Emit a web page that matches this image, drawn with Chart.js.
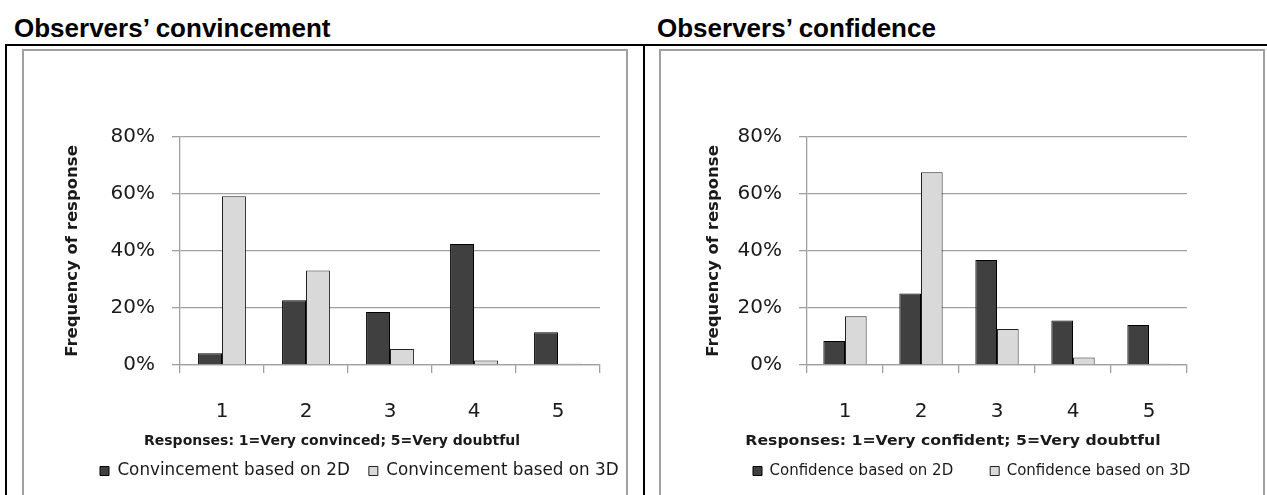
<!DOCTYPE html>
<html>
<head>
<meta charset="utf-8">
<script src="https://cdn.jsdelivr.net/npm/chart.js@4.4.1/dist/chart.umd.min.js"></script>
<style>
  html, body { margin: 0; padding: 0; background: #fff; width: 1267px; height: 495px; overflow: hidden; }
  body { position: relative; }
  .heading { position: absolute; top: 15px; font: bold 26px "Liberation Sans", Arial, sans-serif; line-height: 26px; color: #000; white-space: nowrap; }
  .rule { position: absolute; background: #000; }
  .frame { position: absolute; top: 49px; width: 602px; height: 470px; border: 2px solid #a0a0a0; border-bottom: none; }
  .box { position: absolute; left: 0; top: 0; width: 602px; height: 444px; }
</style>
</head>
<body>
<div class="heading" style="left:14px">Observers’ convincement</div>
<div class="heading" style="left:657px">Observers’ confidence</div>
<div class="rule" style="left:5px;top:44px;width:1262px;height:2px"></div>
<div class="rule" style="left:5px;top:44px;width:2px;height:451px"></div>
<div class="rule" style="left:643px;top:44px;width:2px;height:451px"></div>
<div class="frame" style="left:22px"><div class="box"><canvas id="convChart"></canvas></div></div>
<div class="frame" style="left:659px"><div class="box"><canvas id="confChart"></canvas></div></div>

<script>
// Response scale (1 = most certain, 5 = most doubtful)
const categories = ['1', '2', '3', '4', '5'];

// Share of responses, in percent
const convincement2D = [4.1, 22.7, 18.6, 42.5, 11.5];
const convincement3D = [59.2, 33.2, 5.6, 1.6, 0.4];
const confidence2D = [8.4, 25.1, 36.8, 15.6, 14.0];
const confidence3D = [17.1, 67.6, 12.6, 2.6, 0.4];

// Value axis ticks, in percent
const yTicks = [0, 20, 40, 60, 80];

const FONT = '"DejaVu Sans", sans-serif';
const TEXT = '#1a1a1a';
const GRID = '#a0a0a0';
const PLOT_TOP = 86;      // canvas px
const PLOT_BOTTOM = 314;  // canvas px

// Moves the legend row to a fixed start point and baseline under the axis note.
const legendPlacement = {
  id: 'legendPlacement',
  afterLayout(chart, args, opts) {
    const lg = chart.legend;
    if (!lg) return;
    const dx = (opts.startX - opts.padding) - lg.left;
    lg.left += dx; lg.right += dx;
    const dy = (opts.centerY - opts.padding - opts.fontSize / 2) - lg.top;
    lg.top += dy; lg.bottom += dy;
  }
};

// Category-axis caption drawn between the tick labels and the legend.
const axisNote = {
  id: 'axisNote',
  afterDraw(chart, args, opts) {
    const { ctx } = chart;
    ctx.save();
    ctx.font = `bold ${opts.size}px ${FONT}`;
    ctx.fillStyle = TEXT;
    ctx.textAlign = 'center';
    ctx.textBaseline = 'middle';
    ctx.translate(opts.centerX, opts.centerY);
    ctx.scale(opts.stretch, 1);
    ctx.fillText(opts.text, 0, 0);
    ctx.restore();
  }
};

function buildChart(id, series2D, series3D, label2D, label3D, note, frame) {
  return new Chart(document.getElementById(id), {
    type: 'bar',
    data: {
      labels: categories,
      datasets: [
        { label: label2D, data: series2D, backgroundColor: '#404040', borderColor: '#000', borderWidth: 1 },
        { label: label3D, data: series3D, backgroundColor: '#d9d9d9', borderColor: '#222', borderWidth: 1 }
      ]
    },
    plugins: [legendPlacement, axisNote],
    options: {
      responsive: true,
      maintainAspectRatio: false,
      animation: false,
      events: [],
      layout: { padding: { top: PLOT_TOP, left: 0, right: frame.right, bottom: 0 } },
      datasets: { bar: { categoryPercentage: 0.57, barPercentage: 1.0 } },
      scales: {
        x: {
          grid: { drawOnChartArea: false, drawTicks: true, tickLength: 8, color: GRID, lineWidth: 1.3 },
          border: { color: GRID, width: 1.3 },
          ticks: { font: { family: FONT, size: 20 }, color: TEXT, padding: 27 },
          afterFit: s => {
            s.paddingLeft = 0;
            s.paddingRight = 0;
            s.height = s.chart.height - s.chart.legend.height - PLOT_BOTTOM;
          }
        },
        y: {
          min: yTicks[0],
          max: yTicks[yTicks.length - 1],
          afterBuildTicks: s => { s.ticks = yTicks.map(v => ({ value: v })); },
          ticks: { callback: v => v + '%', font: { family: FONT, size: 20 }, color: TEXT, padding: 17 },
          grid: { color: GRID, lineWidth: 1.3, tickLength: 8 },
          border: { color: GRID, width: 1.3 },
          title: {
            display: true,
            text: 'Frequency of response',
            color: TEXT,
            font: { family: FONT, size: 16.5, weight: 'bold' },
            padding: { top: frame.titleGap, bottom: 0 }
          },
          afterFit: s => { s.width = frame.left; s.paddingTop = 0; s.paddingBottom = 0; }
        }
      },
      plugins: {
        tooltip: { enabled: false },
        legend: {
          position: 'bottom',
          align: 'start',
          labels: {
            boxWidth: 9,
            boxHeight: 9,
            padding: frame.legendGap,
            color: TEXT,
            font: { family: FONT, size: frame.legendSize }
          }
        },
        legendPlacement: {
          startX: frame.legendX,
          centerY: 420,
          padding: frame.legendGap,
          fontSize: frame.legendSize
        },
        axisNote: {
          text: note,
          size: 14,
          stretch: frame.noteStretch,
          centerX: frame.noteX,
          centerY: 390
        }
      }
    }
  });
}

buildChart('convChart', convincement2D, convincement3D,
  'Convincement based on 2D', 'Convincement based on 3D',
  'Responses: 1=Very convinced; 5=Very doubtful',
  { left: 156, right: 26, titleGap: 39, legendX: 76, legendGap: 19, legendSize: 16.8, noteX: 308, noteStretch: 1.0 });
buildChart('confChart', confidence2D, confidence3D,
  'Confidence based on 2D', 'Confidence based on 3D',
  'Responses: 1=Very confident; 5=Very doubtful',
  { left: 146, right: 76, titleGap: 43, legendX: 92, legendGap: 37, legendSize: 15, noteX: 292, noteStretch: 1.12 });
</script>
</body>
</html>
